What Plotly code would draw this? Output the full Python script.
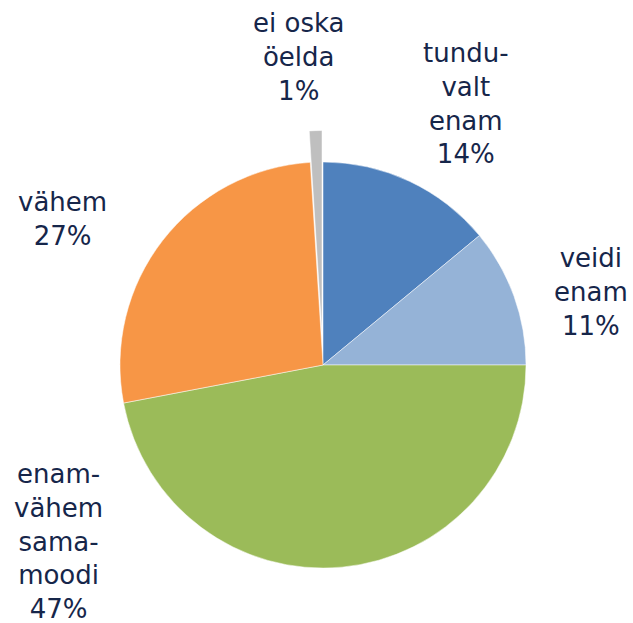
import plotly.graph_objects as go

# Data
categories = ["tundu-<br>valt<br>enam", "veidi<br>enam", "enam-<br>vähem<br>sama-<br>moodi", "vähem", "ei oska<br>öelda"]
values = [14, 11, 47, 27, 1]
colors = ["#4F81BD", "#95B3D7", "#9BBB59", "#F79646", "#BFBFBF"]
pulls = [0, 0, 0, 0, 0.155]

W, H = 633, 623
text_color = "#16264a"
font_family = "DejaVu Sans, Verdana, sans-serif"

fig = go.Figure()
fig.add_trace(go.Pie(
    values=values,
    labels=[c.replace("<br>", " ") for c in categories],
    marker=dict(colors=colors, line=dict(color="white", width=0.5)),
    sort=False,
    direction="clockwise",
    rotation=0,
    pull=pulls,
    textinfo="none",
    hoverinfo="none",
    showlegend=False,
    domain=dict(x=[(323 - 234.5) / W, (323 + 234.5) / W],
                y=[(258 - 234.5) / H, (258 + 234.5) / H]),
))

# label centre positions in pixels (x, y from top), one per category
label_pos = [(466, 104), (591, 292), (58, 541), (62, 219), (298, 57)]
total = sum(values)
for cat, v, (px, py) in zip(categories, values, label_pos):
    fig.add_annotation(
        x=px / W, y=1 - py / H, xref="paper", yref="paper",
        text=f"{cat}<br>{round(100 * v / total)}%",
        showarrow=False, align="center",
        xanchor="center", yanchor="middle",
        font=dict(family=font_family, size=26, color=text_color),
    )

fig.update_layout(
    width=W, height=H, autosize=False,
    margin=dict(l=0, r=0, t=0, b=0),
    paper_bgcolor="white", plot_bgcolor="white",
)

fig.write_html(
    "out.html",
    config={"displayModeBar": False},
    post_script="document.body.style.margin='0';document.body.style.overflow='hidden';",
)
